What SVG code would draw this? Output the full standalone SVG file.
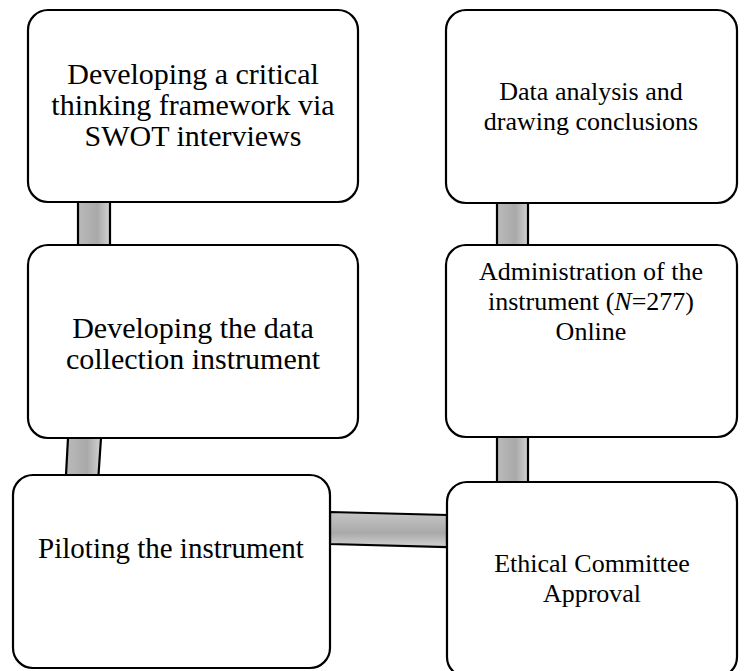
<svg xmlns="http://www.w3.org/2000/svg" width="756" height="671" viewBox="0 0 756 671">
  <style>
    .box { fill: #ffffff; stroke: #000000; stroke-width: 2.2; }
    .bar { stroke: #000000; stroke-width: 2.2; stroke-linejoin: miter; }
    .v { fill: url(#gradV); }
    .h { fill: url(#gradH); }
    text { font-family: "Liberation Serif", "Times New Roman", serif; font-size: 26px; fill: #000000; text-anchor: middle; }
    .big { font-size: 30px; }
  </style>
  <defs>
    <linearGradient id="gradV" x1="0" y1="0" x2="1" y2="0">
      <stop offset="0" stop-color="#bababa"/>
      <stop offset="0.6" stop-color="#a9a9a9"/>
      <stop offset="1" stop-color="#d2d2d2"/>
    </linearGradient>
    <linearGradient id="gradH" x1="0" y1="0" x2="0" y2="1">
      <stop offset="0" stop-color="#c6c6c6"/>
      <stop offset="0.6" stop-color="#a9a9a9"/>
      <stop offset="1" stop-color="#d2d2d2"/>
    </linearGradient>
  </defs>

  <!-- connectors between steps -->
  <g id="connectors">
    <polygon class="bar v" points="78,202 110,202 110,245 78,245"/>
    <polygon class="bar v" points="68,438 101,438 98.5,475 66,475"/>
    <polygon class="bar h" points="330,512 447,515 447,547 330,544"/>
    <polygon class="bar v" points="497,437 528,437 528,482 497,482"/>
    <polygon class="bar v" points="497,203 528,203 528,245 497,245"/>
  </g>

  <g id="step1">
    <rect class="box" x="28" y="10" width="330" height="192" rx="20" ry="20"/>
    <text class="big" x="193" y="84">Developing a critical</text>
    <text class="big" x="193" y="115">thinking framework via</text>
    <text class="big" x="193" y="146">SWOT interviews</text>
  </g>

  <g id="step2">
    <rect class="box" x="28" y="245" width="330" height="193" rx="20" ry="20"/>
    <text class="big" x="193" y="338">Developing the data</text>
    <text class="big" x="193" y="369">collection instrument</text>
  </g>

  <g id="step3">
    <rect class="box" x="13" y="475" width="317" height="193" rx="20" ry="20"/>
    <text class="big" x="171" y="558" style="font-size:29px">Piloting the instrument</text>
  </g>

  <g id="step4">
    <rect class="box" x="447" y="482" width="290" height="195" rx="20" ry="20"/>
    <text x="592" y="572">Ethical Committee</text>
    <text x="592" y="602">Approval</text>
  </g>

  <g id="step5">
    <rect class="box" x="446" y="245" width="291" height="192" rx="20" ry="20"/>
    <text x="591" y="280">Administration of the</text>
    <text x="591" y="310">instrument (<tspan font-style="italic">N</tspan>=277)</text>
    <text x="591" y="340">Online</text>
  </g>

  <g id="step6">
    <rect class="box" x="446" y="10" width="291" height="193" rx="20" ry="20"/>
    <text x="591" y="100">Data analysis and</text>
    <text x="591" y="130">drawing conclusions</text>
  </g>
</svg>
